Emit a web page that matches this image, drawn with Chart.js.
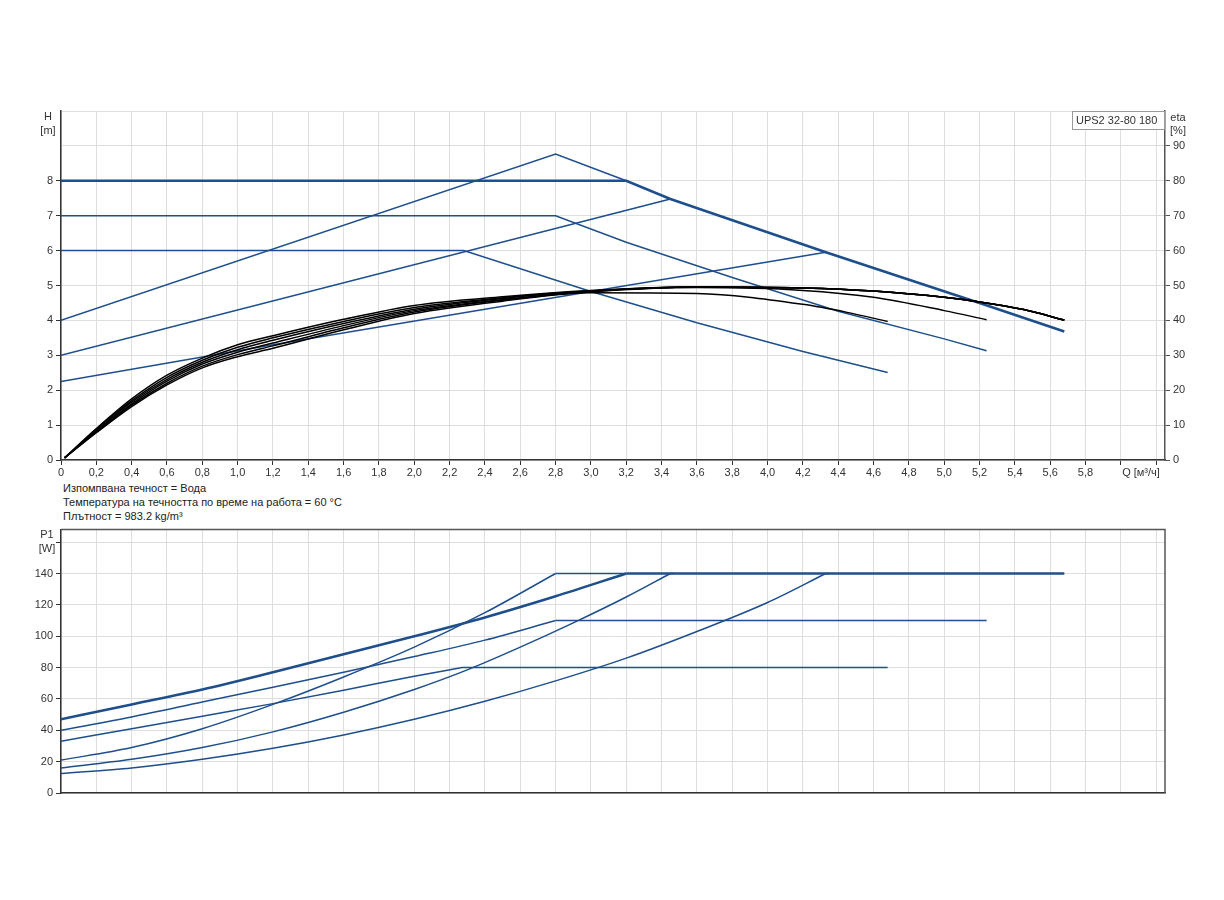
<!DOCTYPE html>
<html>
<head>
<meta charset="utf-8">
<script src="https://cdn.jsdelivr.net/npm/chart.js@4.4.1/dist/chart.umd.min.js"></script>
<style>
  body { margin: 0; background: #fff; width: 1224px; height: 900px; position: relative; overflow: hidden;
         font-family: "Liberation Sans", Arial, sans-serif; }
  #top { position: absolute; left: 0; top: 0; }
  #bottom { position: absolute; left: 0; top: 520px; }
  #notes { position: absolute; left: 63px; top: 481px; font-size: 11px; line-height: 14.2px; color: #222; }
</style>
</head>
<body>
<canvas id="top" width="1224" height="480"></canvas>
<div id="notes">
  Изпомпвана течност = Вода<br>
  Температура на течността по време на работа = 60 °C<br>
  Плътност = 983.2 kg/m³
</div>
<canvas id="bottom" width="1224" height="290"></canvas>
<script>
// --- H curves [m] ---
var qHMax = [0, 3.2, 3.45, 4.33, 5.2, 5.68];
var hMax  = [8, 8, 7.48, 5.95, 4.5, 3.68];
var qHCc7 = [0, 2.8, 3.2, 3.8, 4.4, 5.0, 5.24];
var hCc7  = [7, 7, 6.24, 5.23, 4.26, 3.47, 3.13];
var qHCc6 = [0, 2.28, 3.0, 3.6, 4.2, 4.68];
var hCc6  = [6, 6, 4.83, 3.93, 3.11, 2.51];
var qHPp1 = [0, 2.8, 3.2];
var hPp1  = [4.0, 8.77, 8.0];
var qHPp2 = [0, 3.45];
var hPp2  = [3.0, 7.48];
var qHPp3 = [0, 1.2, 3.0, 4.33];
var hPp3  = [2.25, 3.3, 4.83, 5.95];

// --- eta curves [%] ---
var qEtaRise = [0.02, 0.2, 0.4, 0.6, 0.8, 1.0, 1.2, 1.6, 2.0, 2.5, 3.0];
var etaRise1 = [0.6, 9.0, 17.5, 24.3, 29.2, 33.0, 35.6, 40.3, 44.3, 46.8, 48.6];
var etaRise2 = [0.6, 8.8, 17.0, 23.7, 28.6, 32.3, 35.0, 39.7, 43.7, 46.5, 48.5];
var etaRise3 = [0.6, 8.5, 16.6, 23.1, 28.0, 31.6, 34.3, 39.1, 43.2, 46.3, 48.4];
var etaRise4 = [0.6, 8.3, 16.1, 22.6, 27.5, 30.9, 33.5, 38.5, 42.8, 46.0, 48.3];
var etaRise5 = [0.6, 8.0, 15.7, 22.0, 26.9, 30.2, 32.7, 37.9, 42.4, 45.8, 48.2];
var etaRise6 = [0.6, 7.8, 15.3, 21.5, 26.4, 29.6, 32.0, 37.3, 42.0, 45.5, 47.9];
var qEtaTailA = [3.6, 4.2, 4.45, 4.68];
var etaTailA  = [47.7, 44.6, 42.3, 39.7];
var qEtaTailB = [3.6, 4.2, 4.6, 5.0, 5.24];
var etaTailB  = [49.4, 48.6, 46.6, 42.8, 40.2];
var qEtaTailC = [3.6, 4.2, 4.6, 5.0, 5.2, 5.45, 5.68];
var etaTailC  = [49.6, 49.3, 48.4, 46.6, 45.3, 43.1, 40.1];

// --- P1 curves [W], last point = end of flat part ---
var qP1Max = [0, 0.4, 0.8, 1.2, 1.6, 2.0, 2.4, 2.8, 3.2, 5.68];
var p1Max  = [47, 56.5, 66, 77, 88.5, 100, 112, 125.5, 140, 140];
var qP1Cc7 = [0, 0.4, 0.8, 1.2, 1.6, 2.0, 2.4, 2.8, 5.24];
var p1Cc7  = [40, 48.5, 58, 67.5, 77, 87, 97.5, 110, 110];
var qP1Cc6 = [0, 0.4, 0.8, 1.2, 1.6, 2.0, 2.27, 4.68];
var p1Cc6  = [33, 41, 49, 57, 65.5, 74.5, 80, 80];
var qP1Pp1 = [0, 0.4, 0.8, 1.2, 1.6, 2.0, 2.4, 2.8, 3.2];
var p1Pp1  = [21, 29, 41, 56.5, 74, 93, 115, 140, 140];
var qP1Pp2 = [0, 0.4, 0.8, 1.2, 1.6, 2.0, 2.3, 2.6, 2.9, 3.2, 3.45, 3.47];
var p1Pp2  = [16, 21.5, 29, 39, 51.5, 66, 78.5, 93, 108.5, 125, 140, 140];
var qP1Pp3 = [0, 0.4, 0.8, 1.2, 1.6, 2.0, 2.4, 2.8, 3.2, 3.6, 4.0, 4.33, 4.35];
var p1Pp3  = [12.5, 16, 21.5, 28.5, 37, 47, 58.5, 71.5, 86, 103, 121.5, 140, 140];

var blue = '#1e4f8c';
var gridColor = '#dedede';
var axisColor = '#333';
var textColor = '#333';
var font = { family: '"Liberation Sans", Arial, sans-serif', size: 11 };

function pts(xs, ys) {
  return xs.map(function (x, i) { return { x: x, y: ys[i] }; });
}

function fmtQ(v) {
  var r = Math.round(v * 10) / 10;
  return r === 0 ? '0' : r.toFixed(1).replace('.', ',');
}

function line(data, color, width, axis, smooth) {
  return {
    data: data, yAxisID: axis, borderColor: color, borderWidth: width,
    pointRadius: 0, fill: false, tension: 0,
    cubicInterpolationMode: smooth ? 'monotone' : 'default'
  };
}

// ---------- top chart: H and eta ----------
var etaSets = [
  pts(qEtaRise, etaRise1).concat(pts(qEtaTailC, etaTailC)),
  pts(qEtaRise, etaRise2).concat(pts(qEtaTailC, etaTailC)),
  pts(qEtaRise, etaRise3).concat(pts(qEtaTailC, etaTailC)),
  pts(qEtaRise, etaRise4).concat(pts(qEtaTailC, etaTailC)),
  pts(qEtaRise, etaRise5).concat(pts(qEtaTailB, etaTailB)),
  pts(qEtaRise, etaRise6).concat(pts(qEtaTailA, etaTailA))
];

var topSets = etaSets.map(function (d) { return line(d, '#000', 1.5, 'y1', true); });
topSets.push(line(pts(qHMax, hMax), blue, 2.6, 'y', false));
topSets.push(line(pts(qHCc7, hCc7), blue, 1.5, 'y', false));
topSets.push(line(pts(qHCc6, hCc6), blue, 1.5, 'y', false));
topSets.push(line(pts(qHPp1, hPp1), blue, 1.5, 'y', false));
topSets.push(line(pts(qHPp2, hPp2), blue, 1.5, 'y', false));
topSets.push(line(pts(qHPp3, hPp3), blue, 1.5, 'y', false));

var topLabels = {
  id: 'topLabels',
  afterDraw: function (chart) {
    var c = chart.ctx;
    c.save();
    c.fillStyle = textColor;
    c.font = '11px "Liberation Sans", Arial, sans-serif';
    c.textBaseline = 'middle';
    c.textAlign = 'center';
    c.fillText('H', 48, 117);
    c.fillText('[m]', 48, 131);
    c.fillText('eta', 1178, 118);
    c.fillText('[%]', 1178, 131);
    c.fillText('Q [м³/ч]', 1141, 473);
    c.fillStyle = '#fff';
    c.strokeStyle = '#999';
    c.lineWidth = 1;
    c.fillRect(1072.5, 111.5, 92, 18);
    c.strokeRect(1072.5, 111.5, 92, 18);
    c.fillStyle = textColor;
    c.textAlign = 'left';
    c.fillText('UPS2 32-80 180', 1076, 120.5);
    c.restore();
  }
};

new Chart(document.getElementById('top'), {
  type: 'line',
  data: { datasets: topSets },
  options: {
    responsive: false, animation: false,
    layout: { padding: { top: 111, left: 0, right: 0, bottom: 0 } },
    plugins: { legend: { display: false }, tooltip: { enabled: false } },
    scales: {
      x: {
        type: 'linear', min: 0, max: 6.25,
        ticks: { stepSize: 0.2, includeBounds: false, autoSkip: false, maxRotation: 0, padding: 1,
                 color: textColor, font: font,
                 callback: function (v) { return v > 5.85 ? '' : fmtQ(v); } },
        grid: { color: gridColor, tickLength: 5, tickColor: axisColor },
        border: { color: axisColor, width: 1.5 },
        afterFit: function (s) { s.height = 20; }
      },
      y: {
        position: 'left', min: 0, max: 10,
        ticks: { stepSize: 1, color: textColor, font: font, padding: 3,
                 callback: function (v) { return v >= 9 ? '' : v; } },
        grid: { color: gridColor, tickLength: 5,
                tickColor: function (ctx) { return ctx.tick && ctx.tick.value >= 9 ? 'rgba(0,0,0,0)' : axisColor; } },
        border: { color: axisColor, width: 1.5 },
        afterFit: function (s) { s.width = 61; }
      },
      y1: {
        position: 'right', min: 0, max: 100,
        ticks: { stepSize: 10, color: textColor, font: font, padding: 3,
                 callback: function (v) { return v >= 100 ? '' : v; } },
        grid: { drawOnChartArea: false, tickLength: 5,
                tickColor: function (ctx) { return ctx.tick && ctx.tick.value >= 100 ? 'rgba(0,0,0,0)' : '#555'; } },
        border: { color: '#555', width: 1.5 },
        afterFit: function (s) { s.width = 59; }
      }
    }
  },
  plugins: [topLabels]
});

// ---------- bottom chart: P1 ----------
function p1Sets(xs, ys, width) {
  var n = xs.length;
  return [
    line(pts(xs.slice(0, n - 1), ys.slice(0, n - 1)), blue, width, 'y', true),
    line(pts(xs.slice(n - 2), ys.slice(n - 2)), blue, width, 'y', false)
  ];
}

var bottomSets = [].concat(
  p1Sets(qP1Max, p1Max, 2.6),
  p1Sets(qP1Cc7, p1Cc7, 1.5),
  p1Sets(qP1Cc6, p1Cc6, 1.5),
  p1Sets(qP1Pp1, p1Pp1, 1.5),
  p1Sets(qP1Pp2, p1Pp2, 1.5),
  p1Sets(qP1Pp3, p1Pp3, 1.5)
);

var bottomLabels = {
  id: 'bottomLabels',
  afterDraw: function (chart) {
    var c = chart.ctx, a = chart.chartArea;
    c.save();
    c.strokeStyle = '#555';
    c.lineWidth = 1.5;
    c.beginPath();
    c.moveTo(a.left, a.top);
    c.lineTo(a.right, a.top);
    c.lineTo(a.right, a.bottom);
    c.stroke();
    c.fillStyle = textColor;
    c.font = '11px "Liberation Sans", Arial, sans-serif';
    c.textBaseline = 'middle';
    c.textAlign = 'center';
    c.fillText('P1', 47, 15);
    c.fillText('[W]', 47, 28.5);
    c.restore();
  }
};

new Chart(document.getElementById('bottom'), {
  type: 'line',
  data: { datasets: bottomSets },
  options: {
    responsive: false, animation: false,
    layout: { padding: { top: 9, left: 0, right: 59, bottom: 0 } },
    plugins: { legend: { display: false }, tooltip: { enabled: false } },
    scales: {
      x: {
        type: 'linear', min: 0, max: 6.25,
        ticks: { stepSize: 0.2, includeBounds: false, display: false },
        grid: { color: gridColor, drawTicks: false },
        border: { color: axisColor, width: 1.5 },
        afterFit: function (s) { s.height = 17; }
      },
      y: {
        position: 'left', min: 0, max: 168,
        ticks: { stepSize: 20, includeBounds: false, color: textColor, font: font, padding: 3,
                 callback: function (v) { return v >= 160 ? '' : v; } },
        grid: { color: gridColor, tickLength: 5, tickColor: axisColor },
        border: { color: axisColor, width: 1.5 },
        afterFit: function (s) { s.width = 61; }
      }
    }
  },
  plugins: [bottomLabels]
});
</script>
</body>
</html>
